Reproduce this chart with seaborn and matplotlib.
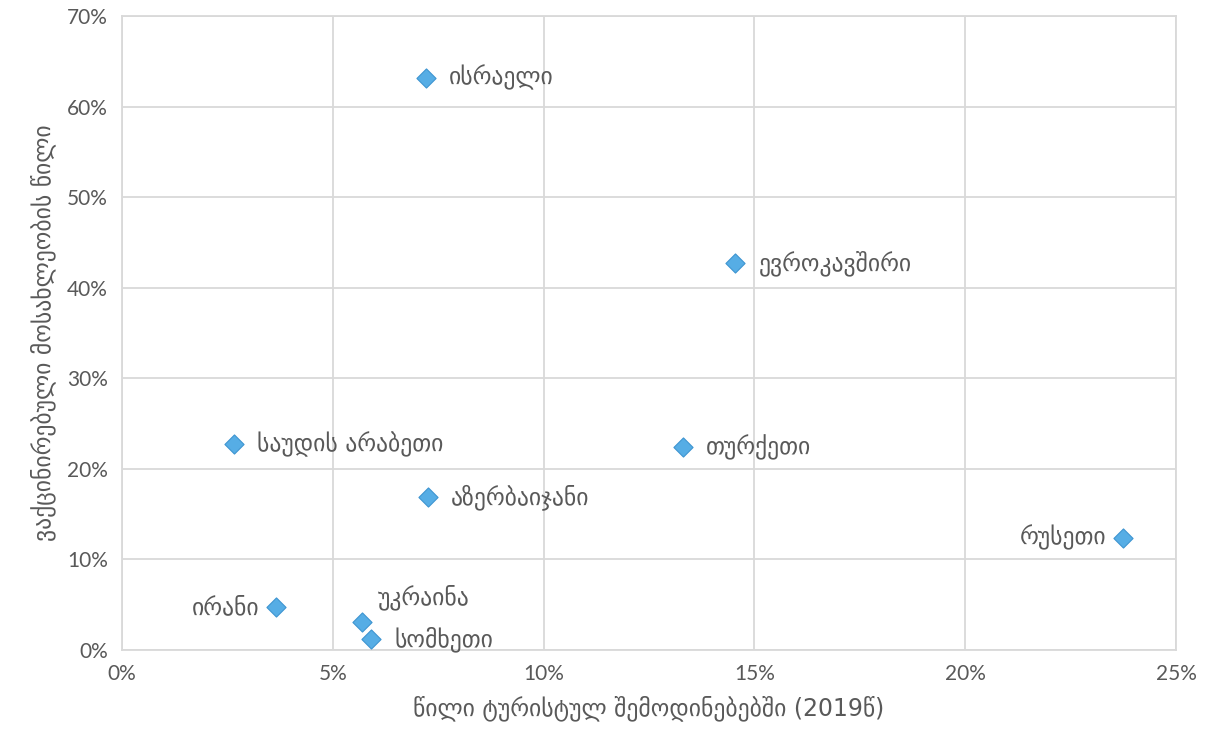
import pandas as pd
import numpy as np
import matplotlib.pyplot as plt
import seaborn as sns
from matplotlib.ticker import PercentFormatter

# values
countries = ['ისრაელი', 'ევროკავშირი', 'საუდის არაბეთი', 'თურქეთი', 'აზერბაიჯანი',
             'რუსეთი', 'ირანი', 'უკრაინა', 'სომხეთი']
tourist_share = [7.2, 14.55, 2.65, 13.3, 7.25, 23.75, 3.65, 5.7, 5.9]
vaccinated_share = [63.2, 42.7, 22.7, 22.4, 16.9, 12.4, 4.7, 3.1, 1.2]

df = pd.DataFrame({'country': countries, 'tourists': tourist_share, 'vaccinated': vaccinated_share})

sns.set_style('white')
plt.rcParams['font.family'] = ['Lato', 'DejaVu Sans']

grey = '#595959'
fig = plt.figure(figsize=(12.17, 7.35), dpi=100)
ax = fig.add_axes([0.1002, 0.1156, 0.8661, 0.8626])

sns.scatterplot(data=df, x='tourists', y='vaccinated', marker='D', s=95,
                color='#56ADE5', edgecolor='#3E95D1', linewidth=0.8, ax=ax, zorder=3)

# label placement: (dx, dy in points, ha)
offsets = {
    'ირანი': (-12, 0, 'right'),
    'რუსეთი': (-12, 0, 'right'),
    'უკრაინა': (11, 18, 'left'),
}
for _, r in df.iterrows():
    dx, dy, ha = offsets.get(r['country'], (17, 0, 'left'))
    ax.annotate(r['country'], (r['tourists'], r['vaccinated']), xytext=(dx, dy),
                textcoords='offset points', ha=ha, va='center', fontsize=17,
                color=grey, family='DejaVu Sans')

ax.set_xlim(0, 25)
ax.set_ylim(0, 70)
ax.set_xticks(np.arange(0, 26, 5))
ax.set_yticks(np.arange(0, 71, 10))
ax.xaxis.set_major_formatter(PercentFormatter(decimals=0))
ax.yaxis.set_major_formatter(PercentFormatter(decimals=0))
ax.grid(True, color='#D9D9D9', linewidth=1.3)
ax.set_axisbelow(True)
for side, sp in ax.spines.items():
    sp.set_color('#D9D9D9')
    sp.set_linewidth(1.3)
ax.tick_params(axis='both', labelsize=15, colors=grey, length=0, pad=10)

ax.set_xlabel('წილი ტურისტულ შემოდინებებში (2019წ)', fontsize=17, color=grey,
              family='DejaVu Sans', labelpad=8)
ax.set_ylabel('ვაქცინირებული მოსახლეობის წილი', fontsize=17, color=grey,
              family='DejaVu Sans', labelpad=8)

fig.savefig('out.png', dpi=100)
